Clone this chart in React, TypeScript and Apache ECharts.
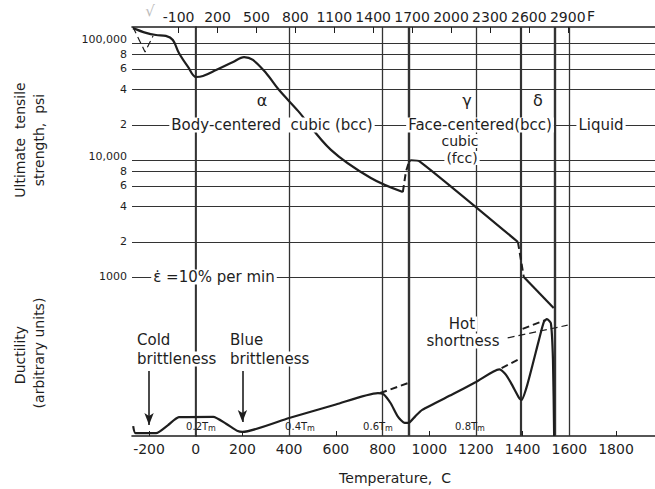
import React, { useEffect, useRef } from 'react';
import * as echarts from 'echarts';

const FONT = '"DejaVu Sans", "Liberation Sans", sans-serif';
const INK = '#1e1e1e';

// ---- axes / ticks ----
const celsiusTicks = [-200, 0, 200, 400, 600, 800, 1000, 1200, 1400, 1600, 1800];
const fahrenheitTicks = [-100, 200, 500, 800, 1100, 1400, 1700, 2000, 2300, 2600, 2900];
const strengthGridValues = [100000, 80000, 60000, 40000, 20000, 10000, 8000, 6000, 4000, 2000, 1000];
const strengthGridLabels = ['100,000', '8', '6', '4', '2', '10,000', '8', '6', '4', '2', '1000'];
const temperatureLines = [0, 400, 800, 912, 1200, 1394, 1538, 1600];
const temperatureLineWidths = [1.3, 1.3, 1.3, 2.4, 1.3, 2.2, 2.4, 1.3];

// ---- ultimate tensile strength, psi (temperature C, psi) ----
const strengthBcc: [number, number][] = [
  [-269, 134000], [-213, 122000], [-170, 117000], [-128, 115000], [-98, 106000],
  [-72, 82000], [-33, 62400], [1, 51200], [31, 52200], [87, 58700], [160, 68900],
  [207, 75800], [245, 71600], [301, 55400], [357, 39600], [438, 26300], [579, 12200],
  [750, 7010], [887, 5320],
];
const strengthLowTempDashed: [number, number][] = [[-269, 137000], [-217, 83800], [-183, 114800]];
const strengthBccFccDashed: [number, number][] = [[887, 5320], [900, 7890], [913, 9620]];
const strengthFcc: [number, number][] = [[913, 9620], [922, 9950], [960, 9700], [1380, 1990]];
const strengthFccDeltaDashed: [number, number][] = [[1380, 1990], [1405, 1000]];
const strengthDelta: [number, number][] = [[1405, 1000], [1533, 543]];

// ---- ductility, arbitrary units ----
const ductility: [number, number][] = [
  [-268, 2.4], [-258, 0.7], [-170, 0.7], [-120, 2.6], [-72, 4.6], [75, 4.7], [130, 3.0],
  [180, 1.2], [200, 1.0], [400, 4.4], [600, 7.7], [780, 10.5], [805, 10.2], [835, 8.0],
  [865, 4.8], [895, 3.2], [915, 3.3], [940, 4.8], [970, 6.4], [1100, 10.2], [1200, 13.2],
  [1300, 16.3], [1325, 15.2], [1350, 13.0], [1385, 9.3], [1395, 8.8], [1420, 12.5],
  [1470, 23.5], [1491, 27.9], [1504, 28.6], [1521, 27.6], [1530, 18.6], [1535, 0],
];
const ductilityAlphaExt: [number, number][] = [[790, 10.5], [912, 13.0]];
const ductilityGammaExt: [number, number][] = [[1310, 16.6], [1385, 18.8]];
const ductilityDeltaExt: [number, number][] = [[1400, 26.2], [1500, 28.4]];
const hotShortnessLeader: [number, number][] = [[1336, 24.0], [1593, 27.1]];
const brittlenessArrows = [
  { t: -200, from: 15.9, to: 2.7 },
  { t: 200, from: 15.9, to: 3.4 },
];

function txt(text: string, x: number, y: number, size = 15, align = 'center', extra: any = {}) {
  return {
    type: 'text',
    x,
    y,
    z: 100,
    rotation: extra.rotation || 0,
    style: {
      text,
      fill: INK,
      font: `${size}px ${FONT}`,
      textAlign: align,
      align,
      textVerticalAlign: 'middle',
      verticalAlign: 'middle',
      backgroundColor: extra.noBg ? undefined : '#fff',
      padding: extra.noBg ? 0 : [0, 2, 0, 2],
      ...(extra.style || {}),
    },
  };
}

function tmLabel(prefix: string, x: number, y: number) {
  return {
    type: 'text',
    x,
    y,
    z: 100,
    style: {
      text: `{a|${prefix}T}{b|m}`,
      align: 'center',
      textAlign: 'center',
      verticalAlign: 'middle',
      textVerticalAlign: 'middle',
      rich: {
        a: { fontSize: 10, fontFamily: FONT, fill: INK, lineHeight: 13, verticalAlign: 'middle' },
        b: { fontSize: 8, fontFamily: FONT, fill: INK, lineHeight: 13, verticalAlign: 'bottom' },
      },
    },
  };
}

function lineSeries(data: [number, number][], yAxisIndex: number, opts: any = {}) {
  return {
    type: 'line',
    data,
    xAxisIndex: 0,
    yAxisIndex,
    showSymbol: false,
    symbol: 'none',
    smooth: opts.smooth ?? false,
    lineStyle: {
      color: INK,
      width: opts.width ?? 2.2,
      type: opts.dashed ? [7, 4] : 'solid',
    },
    z: 5,
    silent: true,
    ...(opts.markLine ? { markLine: opts.markLine } : {}),
  };
}

export default function App() {
  const ref = useRef<HTMLDivElement>(null);

  useEffect(() => {
    document.body.style.margin = '0';
    const chart = echarts.init(ref.current!, null, { renderer: 'svg' });

    const hLines = strengthGridValues.map((v) => ({ yAxis: v }));
    const vLines = temperatureLines.map((t, i) => ({
      xAxis: t,
      lineStyle: { width: temperatureLineWidths[i] },
    }));

    const staticGraphic: any[] = [
      txt('√', 150, 11, 15, 'center', { noBg: true, style: { fill: '#bbb' } }),
      txt('F', 587, 16, 14, 'left', { noBg: true }),
      txt('Ultimate  tensile', 20, 140, 14, 'center', { rotation: Math.PI / 2, noBg: true }),
      txt('strength,  psi', 39, 140, 14, 'center', { rotation: Math.PI / 2, noBg: true }),
      txt('Ductility', 20, 355, 14, 'center', { rotation: Math.PI / 2, noBg: true }),
      txt('(arbitrary units)', 39, 353, 14, 'center', { rotation: Math.PI / 2, noBg: true }),
      txt('α', 262, 100, 16),
      txt('Body-centered  cubic (bcc)', 272, 125, 15),
      txt('Face-centered(bcc)', 480, 125, 15),
      txt('Liquid', 601, 125, 15),
      txt('γ', 467, 100, 16),
      txt('δ', 538, 100, 16),
      txt('cubic', 460, 141, 14),
      txt('(fcc)', 462, 158, 14),
      txt('ε̇ =10% per min', 214, 277, 15),
      txt('Cold', 135, 340, 15, 'left'),
      txt('brittleness', 135, 359, 15, 'left'),
      txt('Blue', 228, 340, 15, 'left'),
      txt('brittleness', 228, 359, 15, 'left'),
      txt('Hot', 462, 324, 15),
      txt('shortness', 463, 341, 15),
      tmLabel('0.2', 201, 426),
      tmLabel('0.4', 300, 426),
      tmLabel('0.6', 378, 426),
      tmLabel('0.8', 470, 426),
      txt('Temperature,  C', 395, 478, 14, 'center', { noBg: true }),
    ];

    const option: any = {
      animation: false,
      backgroundColor: '#fff',
      textStyle: { fontFamily: FONT },
      grid: { left: 132, right: 0, top: 27, bottom: 53, containLabel: false },
      xAxis: [
        {
          type: 'value',
          min: -273,
          max: 1967,
          position: 'bottom',
          axisLine: { show: true, lineStyle: { color: INK, width: 1.6 } },
          axisTick: { show: true, inside: true, length: 5, customValues: celsiusTicks, lineStyle: { color: INK } },
          axisLabel: {
            customValues: celsiusTicks,
            fontSize: 14,
            color: INK,
            margin: 6,
            fontFamily: FONT,
            hideOverlap: false,
            formatter: (v: number) => String(v),
          },
          splitLine: { show: false },
        },
        {
          type: 'value',
          min: -273 * 1.8 + 32,
          max: 1967 * 1.8 + 32,
          position: 'top',
          axisLine: { show: true, lineStyle: { color: INK, width: 1.6 } },
          axisTick: { show: true, inside: true, length: 6, customValues: fahrenheitTicks, lineStyle: { color: INK } },
          axisLabel: {
            customValues: fahrenheitTicks,
            fontSize: 14,
            color: INK,
            margin: 3,
            fontFamily: FONT,
            hideOverlap: false,
            formatter: (v: number) => String(Math.round(v)),
          },
          splitLine: { show: false },
        },
      ],
      yAxis: [
        {
          type: 'log',
          min: 43.75,
          max: 137000,
          axisLine: { show: true, lineStyle: { color: INK, width: 1.6 } },
          axisTick: { show: false },
          axisLabel: { show: false },
          splitLine: { show: false },
        },
        {
          type: 'value',
          min: 0,
          max: 100,
          show: false,
          splitLine: { show: false },
        },
      ],
      series: [
        lineSeries(strengthBcc, 0, {
          smooth: 0.35,
          markLine: {
            silent: true,
            symbol: ['none', 'none'],
            animation: false,
            z: 1,
            lineStyle: { color: '#333', width: 1.2, type: 'solid' },
            label: { show: false },
            data: [...hLines, ...vLines],
          },
        }),
        lineSeries(strengthLowTempDashed, 0, { dashed: true, width: 1.2 }),
        lineSeries(strengthBccFccDashed, 0, { dashed: true, width: 2 }),
        lineSeries(strengthFcc, 0, { smooth: 0.2 }),
        lineSeries(strengthFccDeltaDashed, 0, { dashed: true, width: 2 }),
        lineSeries(strengthDelta, 0, {}),
        lineSeries(ductility, 1, {
          smooth: 0.2,
          markLine: {
            silent: true,
            symbol: ['none', 'arrow'],
            symbolSize: [7, 12],
            animation: false,
            lineStyle: { color: INK, width: 1.6, type: 'solid' },
            label: { show: false },
            data: brittlenessArrows.map((a) => [
              { coord: [a.t, a.from] },
              { coord: [a.t, a.to] },
            ]),
          },
        }),
        lineSeries(ductilityAlphaExt, 1, { dashed: true, width: 2 }),
        lineSeries(ductilityGammaExt, 1, { dashed: true, width: 2 }),
        lineSeries(ductilityDeltaExt, 1, { dashed: true, width: 2 }),
        lineSeries(hotShortnessLeader, 1, { dashed: true, width: 1.2 }),
      ],
      graphic: staticGraphic,
    };

    chart.setOption(option);

    // strength tick labels, placed from the log axis itself
    const gridLabels = strengthGridValues.map((v, i) => {
      const y = chart.convertToPixel({ yAxisIndex: 0 }, v) as number;
      const label = strengthGridLabels[i];
      let nudge = 0;
      if (label.includes(',')) nudge = -3.5;
      else if (label === '8') nudge = 0.5;
      return txt(label, 127, y + nudge, 11, 'right', { noBg: true });
    });
    chart.setOption({ graphic: [...staticGraphic, ...gridLabels] }, { replaceMerge: ['graphic'] } as any);

    return () => chart.dispose();
  }, []);

  return <div ref={ref} style={{ width: 655, height: 489 }} />;
}
